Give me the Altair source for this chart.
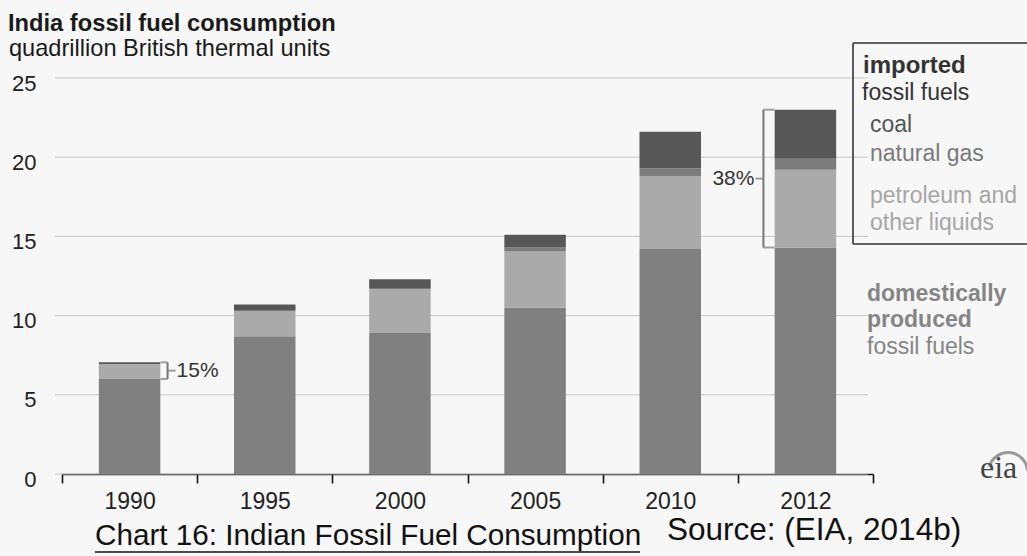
import altair as alt
import pandas as pd

# India fossil fuel consumption, quadrillion Btu
years = ["1990", "1995", "2000", "2005", "2010", "2012"]
domestic = [6.0, 8.7, 8.9, 10.5, 14.2, 14.3]
petroleum = [0.95, 1.6, 2.8, 3.55, 4.6, 4.9]
natural_gas = [0.0, 0.0, 0.0, 0.25, 0.5, 0.7]
coal = [0.1, 0.4, 0.6, 0.8, 2.3, 3.1]

series_names = ["domestic", "petroleum", "natural gas", "coal"]
series_colors = ["#808080", "#aaaaaa", "#7c7c7c", "#575757"]
y_ticks = [0, 5, 10, 15, 20, 25]

SANS = "Liberation Sans"
SERIF = "Liberation Serif"

rows = []
for i, yr in enumerate(years):
    for k, (name, vals) in enumerate(zip(series_names, [domestic, petroleum, natural_gas, coal])):
        rows.append({"year": yr, "source": name, "value": vals[i], "order": k})
df = pd.DataFrame(rows)

# imported share brackets (from domestic top to stack top)
ann = pd.DataFrame({
    "year": years,
    "lo": domestic,
    "hi": [d + p + g + c for d, p, g, c in zip(domestic, petroleum, natural_gas, coal)],
})
ann["mid"] = (ann["lo"] + ann["hi"]) / 2
ann["label"] = [f"{round(100 * (h - l) / h)}%" for l, h in zip(ann["lo"], ann["hi"])]

W, H = 811, 396
x_scale = alt.Scale(domain=years, paddingInner=0, paddingOuter=0)
y_scale = alt.Scale(domain=[0, 25], nice=False)

x_axis = alt.Axis(
    title=None, labelAngle=0, labelFont=SANS, labelFontSize=23, labelColor="#222",
    labelPadding=7, domainColor="#111", domainWidth=1.6, tickColor="#111",
    tickWidth=1.6, tickSize=9, tickBand="extent", grid=False,
)
y_axis = alt.Axis(
    title=None, values=y_ticks, labelFont=SANS, labelFontSize=22, labelColor="#222",
    labelPadding=26, labelOffset=5, ticks=False, domain=False, grid=False,
)

# horizontal guide lines, drawn a little wider than the category axis
grid = alt.Chart(pd.DataFrame({"v": y_ticks})).mark_rule(
    color="#c6c6c6", strokeWidth=1
).encode(
    y=alt.Y("v:Q", scale=y_scale, axis=y_axis),
    x=alt.value(-7),
    x2=alt.value(806),
)

bars = alt.Chart(df).mark_bar(width=alt.RelativeBandSize(0.455)).encode(
    x=alt.X("year:N", scale=x_scale, axis=x_axis, sort=years),
    y=alt.Y("value:Q", stack="zero", scale=y_scale, axis=y_axis),
    color=alt.Color("source:N", scale=alt.Scale(domain=series_names, range=series_colors), legend=None),
    order=alt.Order("order:Q"),
)

BR = "#777777"


def bracket(year, side, reach):
    """Bracket beside a bar spanning the imported part, with its share label."""
    d = ann[ann["year"] == year]
    s = 1 if side == "right" else -1
    base = alt.Chart(d)
    xenc = alt.X("year:N", scale=x_scale)
    stub = reach - 31
    vert = base.mark_rule(color=BR, strokeWidth=2, xOffset=s * reach).encode(
        x=xenc, y="lo:Q", y2="hi:Q"
    )
    top = base.mark_tick(color=BR, thickness=2, size=stub, xOffset=s * (31 + stub / 2),
                         orient="horizontal").encode(x=xenc, y="hi:Q")
    bot = base.mark_tick(color=BR, thickness=2, size=stub, xOffset=s * (31 + stub / 2),
                         orient="horizontal").encode(x=xenc, y="lo:Q")
    dash = base.mark_tick(color=BR, thickness=2, size=8, xOffset=s * (reach + 4),
                          orient="horizontal").encode(x=xenc, y="mid:Q")
    txt = base.mark_text(
        font=SANS, fontSize=21, color="#333", baseline="middle",
        align="left" if side == "right" else "right", dx=s * (reach + 9),
    ).encode(x=xenc, y="mid:Q", text="label:N")
    return [vert, top, bot, dash, txt]


one = pd.DataFrame({"k": [0]})


def label(text, x, y, size=23, weight="normal", color="#222", align="left", font=SANS):
    return alt.Chart(one).mark_text(
        text=text, font=font, fontSize=size, fontWeight=weight, color=color,
        align=align, baseline="alphabetic",
    ).encode(x=alt.value(x), y=alt.value(y))


texts = [
    label("India fossil fuel consumption", -54, -47, size=23.7, weight="bold", color="#1a1a1a"),
    label("quadrillion British thermal units", -53, -22, size=23.6, color="#1a1a1a"),
    label("Chart 16: Indian Fossil Fuel Consumption", 33, 467, size=29.7, color="#111"),
    label("Source: (EIA, 2014b)", 605, 462, size=31.5, color="#111"),
    label("imported", 801, -5, size=24, weight="bold", color="#333"),
    label("fossil fuels", 800, 22, color="#333"),
    label("coal", 808, 54, color="#555"),
    label("natural gas", 808, 83, color="#7a7a7a"),
    label("petroleum and", 808, 125, color="#a6a6a6"),
    label("other liquids", 808, 152, color="#a6a6a6"),
    label("domestically", 805, 223, weight="bold", color="#858585"),
    label("produced", 805, 249, weight="bold", color="#858585"),
    label("fossil fuels", 805, 276, color="#858585"),
    label("eia", 918, 400, size=32, color="#444", font=SERIF),
]

underline = alt.Chart(one).mark_rule(color="#111", strokeWidth=1.6).encode(
    x=alt.value(33), x2=alt.value(578), y=alt.value(474)
)

# legend frame: left, top and bottom edges; it runs off the right of the canvas
frame_style = dict(color="#333", strokeWidth=1.6)
frame_left = alt.Chart(one).mark_rule(**frame_style).encode(
    x=alt.value(791), y=alt.value(-35), y2=alt.value(166)
)
frame_top = alt.Chart(one).mark_rule(**frame_style).encode(
    x=alt.value(791), x2=alt.value(1100), y=alt.value(-35)
)
frame_bottom = alt.Chart(one).mark_rule(**frame_style).encode(
    x=alt.value(791), x2=alt.value(1100), y=alt.value(166)
)

# small arch over the logo lettering
swoosh = alt.Chart(one).mark_arc(
    radius=21, radius2=18, theta=4.98, theta2=7.78, color="#9a9a9a"
).encode(x=alt.value(946), y=alt.value(394))

chart = alt.layer(
    grid, bars, *bracket("1990", "right", 38), *bracket("2012", "left", 42),
    frame_left, frame_top, frame_bottom, underline, swoosh, *texts,
).properties(
    width=W, height=H,
    autosize=alt.AutoSizeParams(type="none"),
    padding={"left": 62, "top": 78, "right": 154, "bottom": 82},
    background="#f7f7f7",
).configure_view(stroke=None)

chart.save("out.html", embed_options={"renderer": "svg", "actions": False})
